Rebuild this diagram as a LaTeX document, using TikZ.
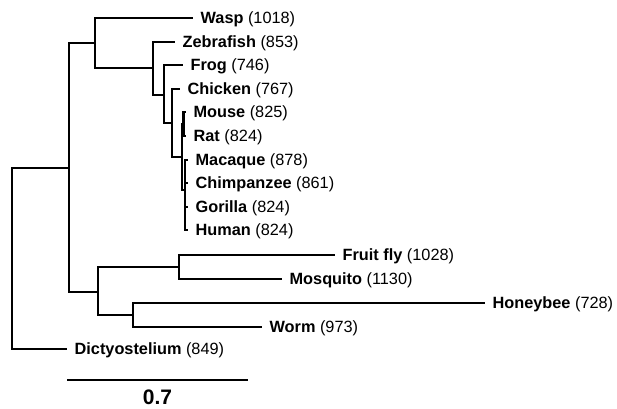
\documentclass[tikz,border=0pt]{standalone}
\usepackage{fontspec}
\setmainfont{Liberation Sans}
\begin{document}
\begin{tikzpicture}[x=1pt,y=-1pt,line width=2.3pt,
        taxon/.style={anchor=west,inner xsep=6.5pt,inner ysep=0pt,text height=11.7pt,text depth=0pt,font=\fontsize{16.3}{18}\selectfont}]
            \useasboundingbox (0,0) rectangle (617,408);
            % inner nodes
            \coordinate (root) at (12,258);
            \coordinate (n1) at (69,168);
            \coordinate (n2) at (95,43);
            \coordinate (vert) at (153,68);
            \coordinate (tetra) at (164,95);
            \coordinate (amn) at (172,123);
            \coordinate (mamm) at (182,157);
            \coordinate (rod) at (183.5,124);
            \coordinate (prim) at (185,190);
            \coordinate (inv) at (98,292);
            \coordinate (dipt) at (179,267);
            \coordinate (hw) at (133,315);
            % leaves
            \node[taxon] (wasp) at (193,18) {\textbf{Wasp} (1018)};
            \node[taxon] (zebrafish) at (175,42) {\textbf{Zebrafish} (853)};
            \node[taxon] (frog) at (183,65) {\textbf{Frog} (746)};
            \node[taxon] (chicken) at (180,89) {\textbf{Chicken} (767)};
            \node[taxon] (mouse) at (186,112) {\textbf{Mouse} (825)};
            \node[taxon] (rat) at (186,136) {\textbf{Rat} (824)};
            \node[taxon] (macaque) at (188,160) {\textbf{Macaque} (878)};
            \node[taxon] (chimp) at (188,183) {\textbf{Chimpanzee} (861)};
            \node[taxon] (gorilla) at (188,207) {\textbf{Gorilla} (824)};
            \node[taxon] (human) at (188,230) {\textbf{Human} (824)};
            \node[taxon] (fruitfly) at (335,255) {\textbf{Fruit fly} (1028)};
            \node[taxon] (mosquito) at (282,279) {\textbf{Mosquito} (1130)};
            \node[taxon] (honeybee) at (485,303) {\textbf{Honeybee} (728)};
            \node[taxon] (worm) at (262,327) {\textbf{Worm} (973)};
            \node[taxon] (dicty) at (67,349) {\textbf{Dictyostelium} (849)};
            % branches
            \foreach \p/\c in {root/n1,root/dicty,n1/n2,n1/inv,n2/wasp,n2/vert,vert/zebrafish,vert/tetra,
                    tetra/frog,tetra/amn,amn/chicken,amn/mamm,mamm/rod,mamm/prim,rod/mouse,rod/rat,
                    prim/macaque,prim/chimp,prim/gorilla,prim/human,inv/dipt,inv/hw,
                    dipt/fruitfly,dipt/mosquito,hw/honeybee,hw/worm}
                \draw (\p) |- (\c);
            % scale bar
            \coordinate (barl) at (67,380);
            \coordinate (barr) at (248,380);
            \draw (barl) -- (barr);
            \node[anchor=base,inner sep=0pt,font=\fontsize{21}{24}\selectfont\bfseries] (barlabel) at (157.5,404.5) {0.7};
        \end{tikzpicture}
\end{document}
